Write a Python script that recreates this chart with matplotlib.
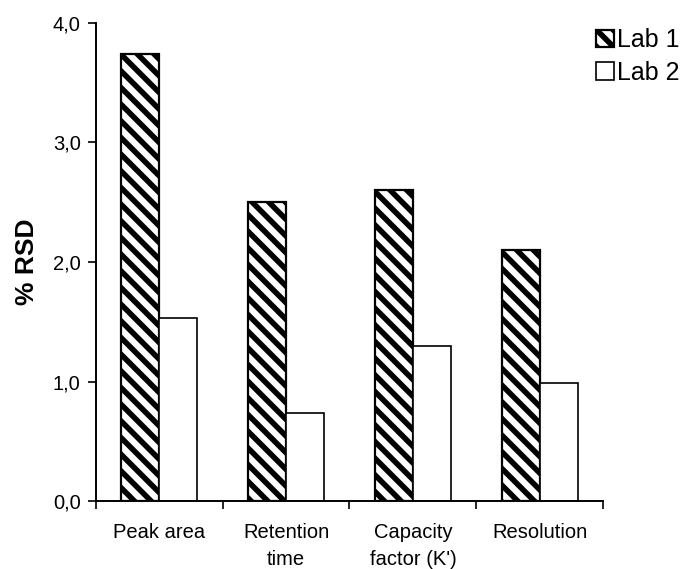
import numpy as np
import matplotlib
matplotlib.use('Agg')
import matplotlib.pyplot as plt
from matplotlib.ticker import FuncFormatter

plt.rcParams['font.family'] = ['Liberation Sans', 'DejaVu Sans']
plt.rcParams['hatch.linewidth'] = 4.0

categories = ['Peak area', 'Retention\ntime', 'Capacity\nfactor (K\')', 'Resolution']
lab1 = [3.74, 2.50, 2.60, 2.10]
lab2 = [1.53, 0.74, 1.30, 0.99]

fig = plt.figure(figsize=(6.9, 5.69), dpi=100)
ax = fig.add_axes([0.139, 0.1195, 0.735, 0.8401])

x = np.arange(len(categories))
w = 0.3
ax.bar(x - w/2, lab1, w, color='white', edgecolor='black', hatch='\\\\',
       linewidth=1.6, label='Lab 1')
ax.bar(x + w/2, lab2, w, color='white', edgecolor='black', linewidth=1.2,
       label='Lab 2')

ax.set_xlim(-0.5, len(categories) - 0.5)
ax.set_ylim(0, 4)
ax.set_yticks([0, 1, 2, 3, 4])
ax.yaxis.set_major_formatter(FuncFormatter(lambda v, p: f"{v:.1f}".replace('.', ',')))

# category boundaries as ticks, labels in the middle
ax.set_xticks(np.arange(len(categories) + 1) - 0.5)
ax.set_xticklabels([])
ax.set_xticks(x, minor=True)
ax.set_xticklabels(categories, minor=True, fontsize=14.5, linespacing=1.5)
ax.tick_params(axis='x', which='minor', length=0, pad=16)
ax.tick_params(axis='x', which='major', length=6, width=1.2, direction='out')
ax.tick_params(axis='y', length=6, width=1.2, direction='out', labelsize=14.5, pad=5)

for s in ['top', 'right']:
    ax.spines[s].set_visible(False)
for s in ['left', 'bottom']:
    ax.spines[s].set_linewidth(1.4)

ax.set_ylabel('% RSD', fontsize=19, fontweight='bold', labelpad=10)

leg = fig.legend(loc='upper left', bbox_to_anchor=(596 / 690, 1 - 28 / 569),
                 frameon=False, fontsize=18, handlelength=0.7, handleheight=0.7,
                 handletextpad=0.15, labelspacing=0.35, borderaxespad=0, borderpad=0)

fig.savefig('out.png', dpi=100)
